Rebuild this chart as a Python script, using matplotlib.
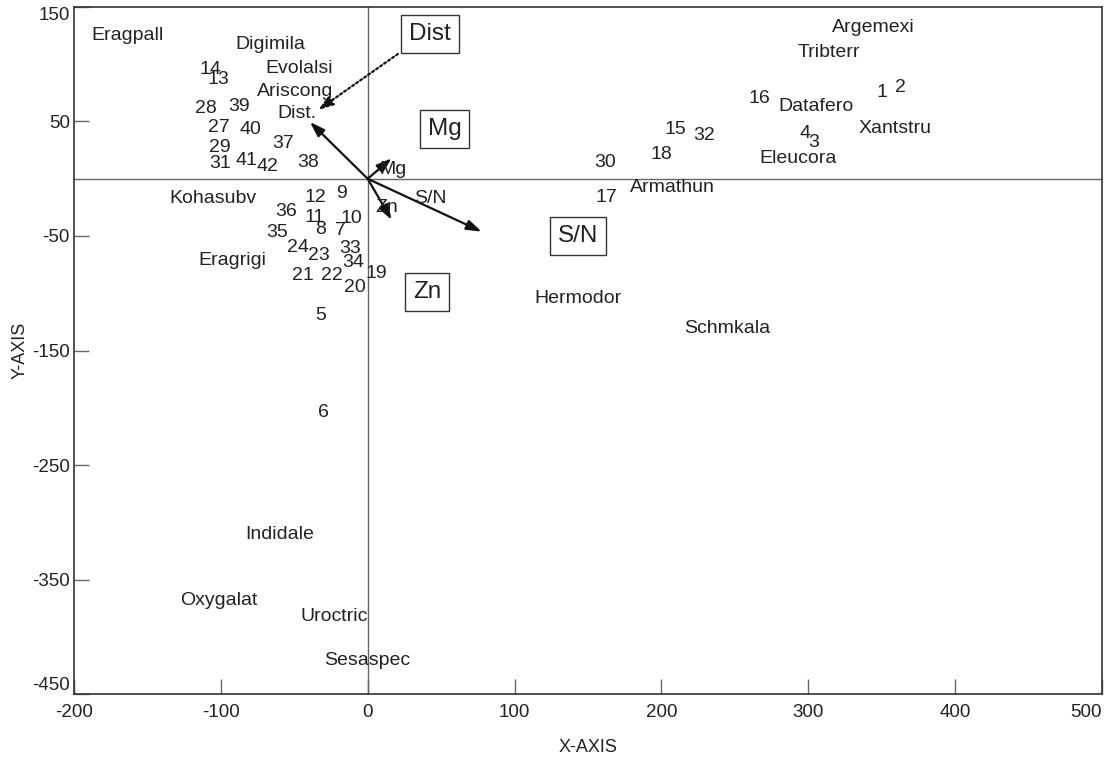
import matplotlib
matplotlib.use("Agg")
import matplotlib.pyplot as plt

plt.rcParams['font.family'] = ['Liberation Sans', 'DejaVu Sans']
plt.rcParams['axes.unicode_minus'] = False

# site scores (numbered samples)
site_labels = ['1', '2', '3', '4', '5', '6', '7', '8', '9', '10', '11', '12', '13', '14',
               '15', '16', '17', '18', '19', '20', '21', '22', '23', '24', '27', '28',
               '29', '30', '31', '32', '33', '34', '35', '36', '37', '38', '39', '40',
               '41', '42']
site_x = [350, 362.5, 303.4, 297.8, -32, -30.2, -18.4, -31.8, -17.7, -10.9, -36.4, -35.9,
          -101.7, -107.4, 209.7, 266.7, 162.8, 200.2, 6.1, -8.6, -44.3, -24.5, -33, -47.3,
          -101, -110.1, -100.6, 161.6, -100.6, 229.2, -12.1, -9.8, -61.6, -55.6, -57.5,
          -40.9, -87.4, -80.1, -82.4, -68.4]
site_y = [75.5, 79.9, 31.5, 39.7, -119, -204, -44.8, -44.2, -13.3, -34.6, -33.7, -16.2,
          86.8, 95.8, 42.6, 70.3, -16.8, 21.6, -82.6, -95.1, -84.6, -84.6, -67.2, -59.9,
          44.6, 61.5, 27.4, 14.4, 12.9, 38.2, -60.8, -73, -47.1, -28.7, 31, 14, 62.9,
          42.6, 15.8, 11.1]

# species scores
species = ['Eragpall', 'Digimila', 'Evolalsi', 'Ariscong', 'Kohasubv', 'Eragrigi',
           'Indidale', 'Oxygalat', 'Uroctric', 'Sesaspec', 'Argemexi', 'Tribterr',
           'Datafero', 'Xantstru', 'Eleucora', 'Armathun', 'Hermodor', 'Schmkala']
species_x = [-163.2, -66.5, -46.7, -49.4, -105.1, -91.9, -60.2, -101.7, -22.7, 0,
             344.3, 314.1, 305.3, 359, 292.8, 207.7, 143.2, 245]
species_y = [125.5, 116.8, 96.7, 76.6, -17.1, -71.8, -310.3, -368.5, -382.5, -420.3,
             132, 110.4, 62.9, 44, 17.8, -7.8, -105, -131.2]

# environmental vectors
env_names = ['Dist.', 'Mg', 'Zn', 'S/N']
env_x = [-39.3, 16.3, 16.3, 77.6]
env_y = [49.6, 17.8, -36, -46.2]
env_label_x = [-47.9, 17.4, 12.9, 42.4]
env_label_y = [57, 8.2, -25, -17]

# boxed captions
box_text = ['Dist', 'Mg', 'S/N', 'Zn']
box_x = [42.4, 52.3, 143.2, 40.4]
box_y = [126, 43.4, -50.4, -98.9]

fig = plt.figure(figsize=(11.07, 7.59), dpi=100)
ax = fig.add_axes([0.0668, 0.0856, 0.9287, 0.9052])

ax.set_xlim(-200, 500)
ax.set_ylim(-450, 150)
ax.axhline(0, color='#666666', lw=1.0, zorder=1)
ax.axvline(0, color='#666666', lw=1.0, zorder=1)

fs = 14
for lab, x, y in zip(site_labels, site_x, site_y):
    ax.text(x, y, lab, fontsize=fs, ha='center', va='center', color='#222222')
for lab, x, y in zip(species, species_x, species_y):
    ax.text(x, y, lab, fontsize=fs, ha='center', va='center', color='#222222')

for name, x, y, lx, ly in zip(env_names, env_x, env_y, env_label_x, env_label_y):
    ax.annotate('', xy=(x, y), xytext=(0, 0),
                arrowprops=dict(arrowstyle='-|>,head_length=0.9,head_width=0.3',
                                lw=1.6, color='#111111', shrinkA=0, shrinkB=0))
    ax.text(lx, ly, name, fontsize=fs, ha='center', va='center', color='#222222')

for t, x, y in zip(box_text, box_x, box_y):
    ax.text(x, y, t, fontsize=17.5, ha='center', va='center', color='#222222',
            bbox=dict(boxstyle='square,pad=0.33', fc='white', ec='#333333', lw=1.0))

# dotted pointer from the Dist caption to the vector label
ax.annotate('', xy=(-33.8, 60), xytext=(20.6, 109),
            arrowprops=dict(arrowstyle='-|>,head_length=0.9,head_width=0.3',
                            lw=1.6, ls=(0, (1, 1.2)), color='#111111',
                            shrinkA=0, shrinkB=0))

ax.set_xticks([-200, -100, 0, 100, 200, 300, 400, 500])
ax.set_yticks([-450, -350, -250, -150, -50, 50, 150])
ax.tick_params(direction='in', length=11, width=1, color='#666666',
               labelsize=13.5, labelcolor='#222222')
ax.tick_params(axis='x', pad=7)
ax.tick_params(axis='y', pad=3)
ylabs = ax.get_yticklabels()
ylabs[0].set_va('bottom')
ylabs[-1].set_va('top')
xlabs = ax.get_xticklabels()
xlabs[-1].set_ha('right')

for s in ax.spines.values():
    s.set_color('#333333')
    s.set_linewidth(1.2)

ax.set_xlabel('X-AXIS', fontsize=13, color='#222222', labelpad=13)
ax.set_ylabel('Y-AXIS', fontsize=13, color='#222222', labelpad=2.5)

fig.savefig('out.png', dpi=100)
